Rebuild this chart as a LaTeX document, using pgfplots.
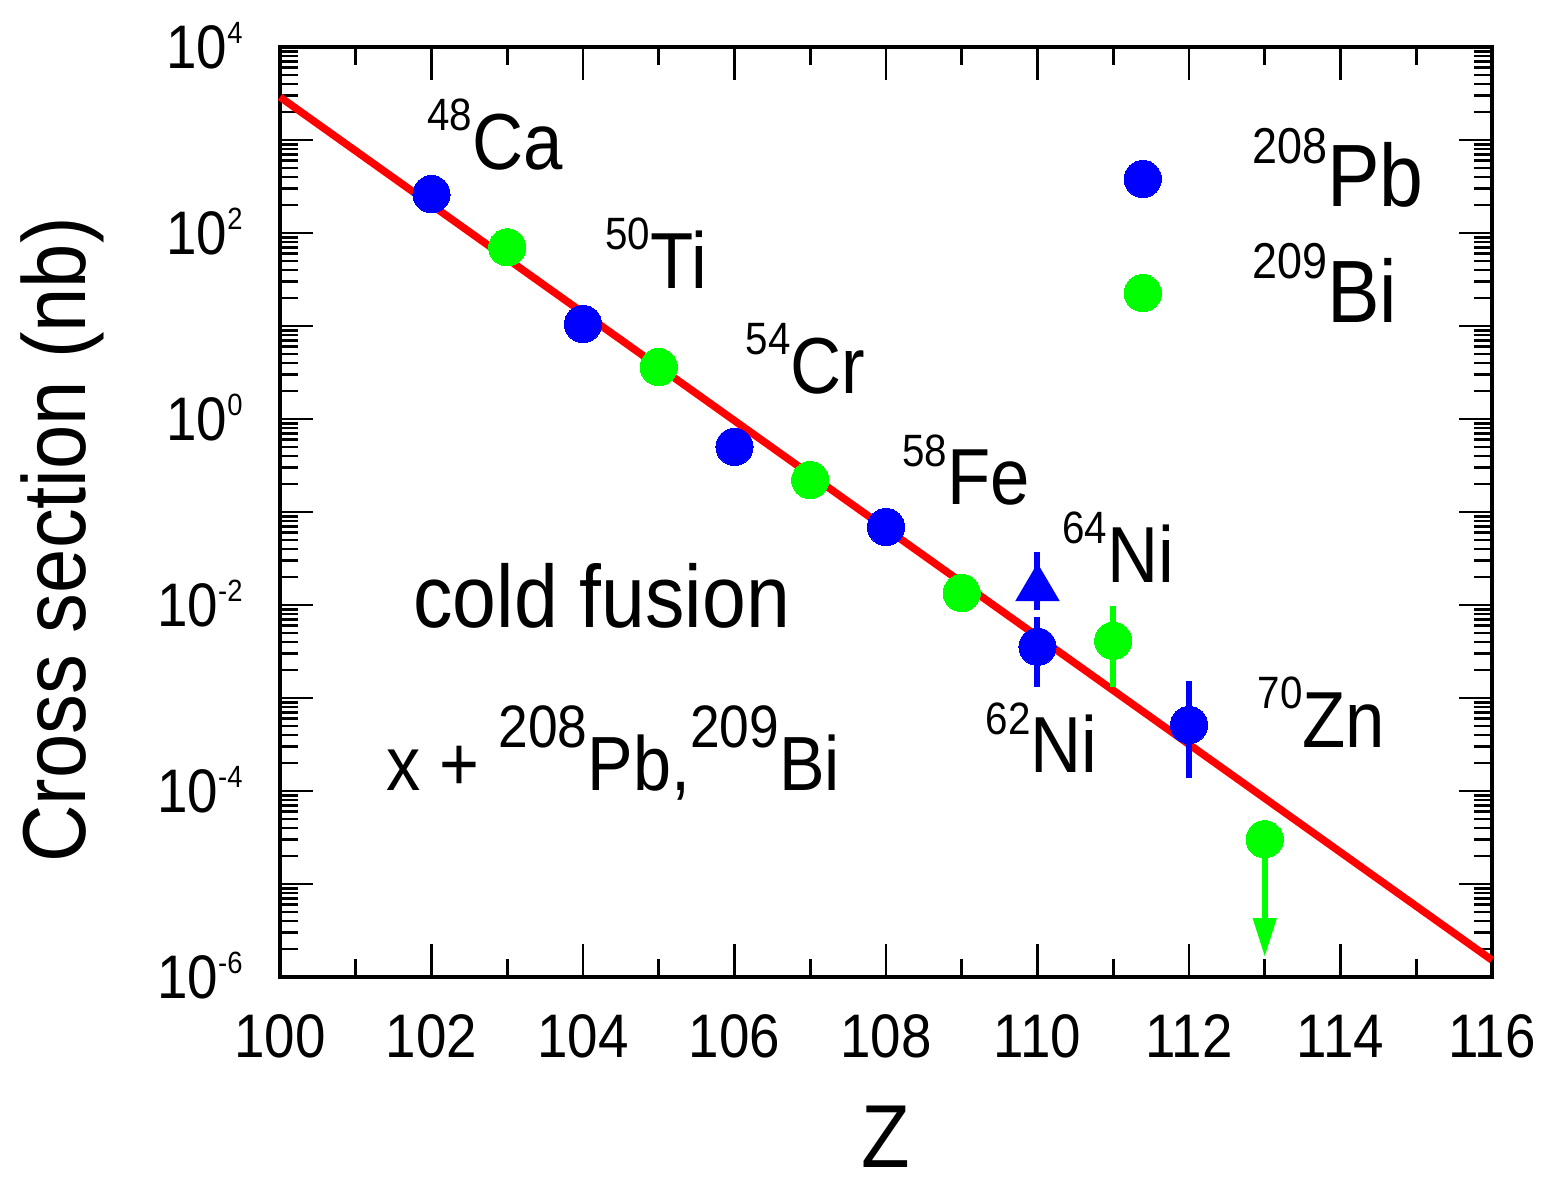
\documentclass[border=0pt]{standalone}
\usepackage{fontspec}
\setmainfont{Liberation Sans}[FakeStretch=0.89]
\usepackage{graphicx}
\usepackage{pgfplots}
\pgfplotsset{compat=1.18}
\usetikzlibrary{arrows.meta}

\definecolor{ptblue}{RGB}{0,0,255}
\definecolor{ptgreen}{RGB}{0,255,0}
\definecolor{fitred}{RGB}{255,0,0}

% isotope: raised, reduced mass number followed by the element symbol
\newcommand{\iso}[2]{\raisebox{0.49em}{\scalebox{0.57}{#1}}#2}
\newcommand{\isob}[2]{\raisebox{0.55em}{\scalebox{0.78}{#1}}#2}
% power-of-ten tick label
\newcommand{\tpow}[1]{10\raisebox{0.42em}{\scalebox{0.5}{#1}}}
\newcommand{\isofont}{\fontsize{26.5}{30}\selectfont}
\newcommand{\bigfont}{\fontsize{29.5}{34}\selectfont}

\begin{document}
\begin{tikzpicture}
\begin{axis}[
  at={(0pt,0pt)}, anchor=south west,
  scale only axis, width=404pt, height=310pt,
  xmin=100, xmax=116,
  ymode=log, ymin=1e-6, ymax=1e4,
  xtick={100,102,...,116},
  xticklabels={100,102,104,106,108,110,112,114,116},
  minor xtick={101,103,...,115},
  ytick={1e-6,1e-5,1e-4,1e-3,1e-2,1e-1,1,1e1,1e2,1e3,1e4},
  yticklabels={\tpow{-6},,\tpow{-4},,\tpow{-2},,\tpow{0},,\tpow{2},,\tpow{4}},
  minor ytick={2e-6,3e-6,4e-6,5e-6,6e-6,7e-6,8e-6,9e-6,
               2e-5,3e-5,4e-5,5e-5,6e-5,7e-5,8e-5,9e-5,
               2e-4,3e-4,4e-4,5e-4,6e-4,7e-4,8e-4,9e-4,
               2e-3,3e-3,4e-3,5e-3,6e-3,7e-3,8e-3,9e-3,
               0.02,0.03,0.04,0.05,0.06,0.07,0.08,0.09,
               0.2,0.3,0.4,0.5,0.6,0.7,0.8,0.9,
               2,3,4,5,6,7,8,9,
               20,30,40,50,60,70,80,90,
               200,300,400,500,600,700,800,900,
               2000,3000,4000,5000,6000,7000,8000,9000},
  tick align=inside, xtick pos=both, ytick pos=both,
  major tick length=11pt, minor tick length=6pt,
  every tick/.style={black, line width=0.9pt},
  axis line style={line width=1.3pt},
  ticklabel style={font=\fontsize{20.5}{24}\selectfont, inner sep=0pt},
  xticklabel style={anchor=base, yshift=-26.7pt},
  yticklabel style={anchor=base east, xshift=-12.3pt, yshift=-7.3pt},
  clip=false,
]

% systematics fit
\addplot[fitred, line width=2.5pt] coordinates {(100,2900) (116,1.52e-6)};

% error bars and limits
\addplot[ptblue, line width=2pt] coordinates {(110,1.31e-3) (110,7.43e-3)};
\addplot[ptblue, line width=2pt] coordinates {(112,1.38e-4) (112,1.52e-3)};
\addplot[ptgreen, line width=2pt] coordinates {(111,1.31e-3) (111,9.75e-3)};
\addplot[ptblue, line width=2pt] coordinates {(110,8.83e-3) (110,0.0372)};
\addplot[ptblue, line width=2pt, -{Triangle[length=12.7pt,width=14.3pt]}]
  coordinates {(110,0.011) (110,0.0283)};
\addplot[ptgreen, line width=2pt, -{Triangle[length=13pt,width=7.5pt]}]
  coordinates {(113,3.03e-5) (113,1.64e-6)};

% x + 208Pb
\addplot[only marks, mark=*, mark size=6.2pt, ptblue, mark options={line width=0pt}]
  coordinates {(102,262) (104,10.5) (106,0.503) (108,0.069) (110,3.56e-3) (112,5.13e-4)};
% x + 209Bi
\addplot[only marks, mark=*, mark size=6.2pt, ptgreen, mark options={line width=0pt}]
  coordinates {(103,70.2) (105,3.62) (107,0.221) (109,0.01346) (111,4.13e-3) (113,3.03e-5)};

% key
\addplot[only marks, mark=*, mark size=6.2pt, ptblue, mark options={line width=0pt}]
  coordinates {(111.39,381)};
\addplot[only marks, mark=*, mark size=6.2pt, ptgreen, mark options={line width=0pt}]
  coordinates {(111.39,22.6)};
\node[anchor=base west, inner sep=0pt, font=\bigfont] at (axis cs:112.83,190.6) {\iso{208}{Pb}};
\node[anchor=base west, inner sep=0pt, font=\bigfont] at (axis cs:112.83,11.04) {\iso{209}{Bi}};

% projectiles
\node[anchor=base west, inner sep=0pt, font=\isofont] at (axis cs:101.94,487) {\iso{48}{Ca}};
\node[anchor=base west, inner sep=0pt, font=\isofont] at (axis cs:104.29,25.6) {\iso{50}{Ti}};
\node[anchor=base west, inner sep=0pt, font=\isofont] at (axis cs:106.14,1.86) {\iso{54}{Cr}};
\node[anchor=base west, inner sep=0pt, font=\isofont] at (axis cs:108.21,0.119) {\iso{58}{Fe}};
\node[anchor=base west, inner sep=0pt, font=\isofont] at (axis cs:110.32,0.01766) {\iso{64}{Ni}};
\node[anchor=base west, inner sep=0pt, font=\isofont] at (axis cs:109.31,1.563e-4) {\iso{62}{Ni}};
\node[anchor=base west, inner sep=0pt, font=\isofont] at (axis cs:112.90,2.97e-4) {\iso{70}{Zn}};

\node[anchor=base west, inner sep=0pt, font=\bigfont] at (axis cs:101.756,5.79e-3) {cold fusion};
\node[anchor=base west, inner sep=0pt, font=\fontsize{25.6}{30}\selectfont]
  at (axis cs:101.40,1.025e-4) {x + \isob{208}{Pb},\isob{209}{Bi}};
\end{axis}

% axis titles
\node[rotate=90, anchor=base, inner sep=0pt, font=\fontsize{29.8}{34}\selectfont]
  at (-64.67pt,145.67pt) {Cross section (nb)};
\node[anchor=base, inner sep=0pt, font=\fontsize{29.8}{34}\selectfont]
  at (202pt,-63.5pt) {Z};

\pgfresetboundingbox
\path[use as bounding box] (-93.33pt,-67.67pt) rectangle (420.67pt,325.67pt);
\end{tikzpicture}
\end{document}
